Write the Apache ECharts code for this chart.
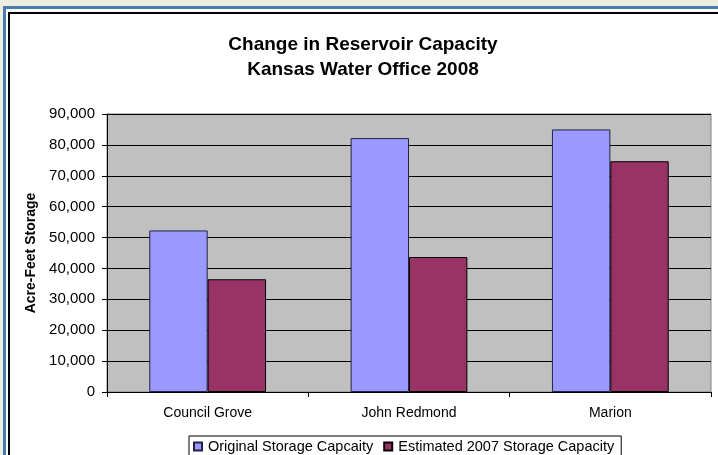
<!DOCTYPE html>
<html><head><meta charset="utf-8">
<script src="https://cdn.jsdelivr.net/npm/echarts@6/dist/echarts.min.js"></script>
<style>
html,body{margin:0;padding:0;background:#ECEEE0;}
#wrap{position:absolute;left:0;top:0;width:718px;height:455px;overflow:hidden;}
#blue{position:absolute;left:3px;top:6px;width:760px;height:500px;border-left:3px solid #4A7AAE;border-top:3px solid #4A7AAE;background:#fff;}
#black{position:absolute;left:8px;top:12px;width:760px;height:500px;border-left:2px solid #000;border-top:2px solid #000;background:#fff;}
#chart{position:absolute;left:0;top:0;width:718px;height:455px;}
</style></head>
<body><div id="wrap"><div id="blue"></div><div id="black"></div><div id="chart"></div></div>
<script>
var categories = ['Council Grove', 'John Redmond', 'Marion'];
var originalCapacity = [52300, 82200, 85000];
var estimated2007Capacity = [36500, 43700, 74700];
var seriesNames = ['Original Storage Capcaity', 'Estimated 2007 Storage Capacity'];
var titleLines = ['Change in Reservoir Capacity', 'Kansas Water Office 2008'];

var chart = echarts.init(document.getElementById('chart'), null, {renderer: 'canvas'});
var font = 'Liberation Sans, Arial, sans-serif';
chart.setOption({
  animation: false,
  backgroundColor: 'transparent',
  title: {
    text: titleLines.join('\n'),
    left: 358, top: 27, textAlign: 'center',
    textStyle: {fontFamily: font, fontSize: 19, fontWeight: 'bold', color: '#000', lineHeight: 25}
  },
  legend: {
    left: 189, top: 436,
    itemWidth: 8, itemHeight: 8, itemGap: 10,
    borderColor: '#000', borderWidth: 1, padding: [3, 7, 6, 4],
    backgroundColor: '#fff',
    textStyle: {fontFamily: font, fontSize: 14.5, color: '#000', padding: [0, 0, 0, 1]},
    data: seriesNames.map(function(n){return {name: n, icon: 'rect'};})
  },
  grid: {left: 107, right: 7, top: 114, bottom: 63, show: true, backgroundColor: '#C0C0C0', borderColor: '#808080', borderWidth: 1},
  xAxis: {
    type: 'category', data: categories,
    axisLine: {lineStyle: {color: '#000', width: 1}},
    axisTick: {show: true, length: 5, alignWithLabel: false, lineStyle: {color: '#000'}},
    axisLabel: {fontFamily: font, fontSize: 14, color: '#000', margin: 14}
  },
  yAxis: {
    type: 'value', min: 0, max: 90000, interval: 10000,
    name: 'Acre-Feet Storage', nameLocation: 'middle', nameGap: 65, nameRotate: 90,
    nameTextStyle: {fontFamily: font, fontSize: 14, fontWeight: 'bold', color: '#000'},
    axisLine: {show: true, lineStyle: {color: '#000'}},
    axisTick: {show: true, length: 5, lineStyle: {color: '#000'}},
    axisLabel: {fontFamily: font, fontSize: 15, color: '#000', margin: 12,
      formatter: function(v){return v.toLocaleString('en-US');}},
    splitLine: {show: true, lineStyle: {color: '#000', width: 1}}
  },
  series: [
    {name: seriesNames[0], type: 'bar', data: originalCapacity, barGap: '0%', barCategoryGap: '42%',
     itemStyle: {color: '#9999FF', borderColor: '#222244', borderWidth: 1}},
    {name: seriesNames[1], type: 'bar', data: estimated2007Capacity,
     itemStyle: {color: '#993366', borderColor: '#000', borderWidth: 1}}
  ]
});
</script></body></html>
